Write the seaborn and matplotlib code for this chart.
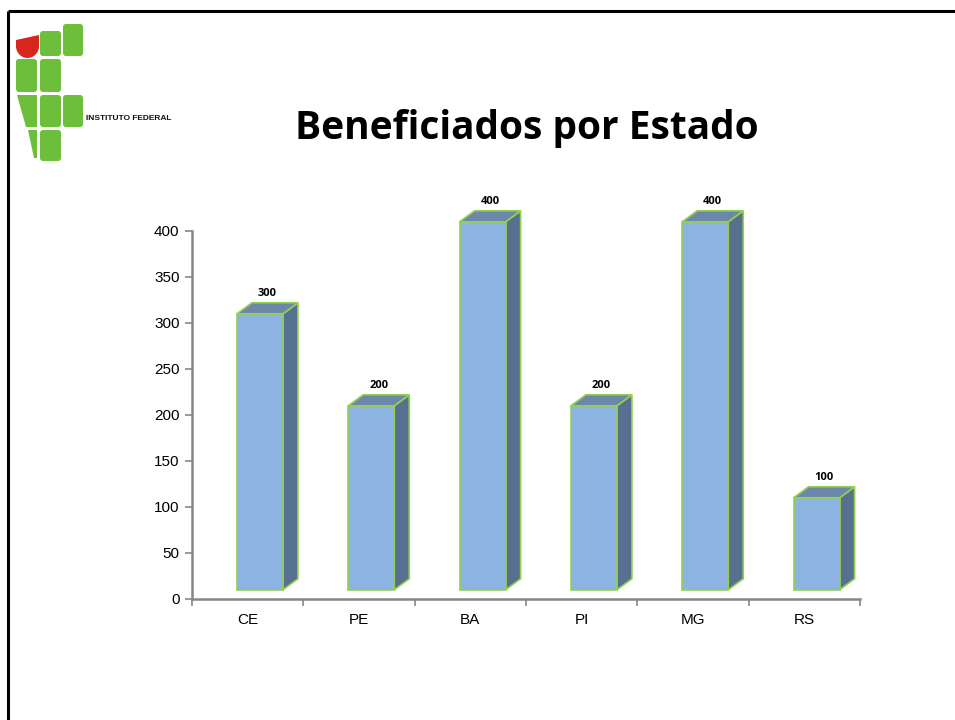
import numpy as np
import pandas as pd
import matplotlib
matplotlib.use('Agg')
from matplotlib import pyplot as plt
from matplotlib.patches import Polygon, FancyBboxPatch
import seaborn as sns

# dados
estados = ['CE', 'PE', 'BA', 'PI', 'MG', 'RS']
beneficiados = [300, 200, 400, 200, 400, 100]
y_ticks = [0, 50, 100, 150, 200, 250, 300, 350, 400]
titulo = 'Beneficiados por Estado'

# cores
frente = '#8DB3E2'
lado = '#58708F'
topo = '#6D87AB'
borda = '#92D050'
cinza = '#868686'
verde = '#6DBE3A'
vermelho = '#D9261C'

sns.set_theme(style='white')
plt.rcParams['font.family'] = ['Liberation Sans', 'DejaVu Sans']
plt.rcParams['text.color'] = 'black'

fig = plt.figure(figsize=(9.55, 7.2), dpi=100)

# fundo do slide: borda + logo (coordenadas em pixels)
bg = fig.add_axes([0, 0, 1, 1], zorder=-1)
bg.set_xlim(0, 955)
bg.set_ylim(720, 0)
bg.axis('off')
bg.plot([8, 8], [11, 720], color='black', lw=2.2, solid_capstyle='butt')
bg.plot([8, 955], [11, 11], color='black', lw=2.2, solid_capstyle='butt')


def bloco(x, y, w, h):
    bg.add_patch(FancyBboxPatch((x, y), w, h, boxstyle='round,pad=0,rounding_size=3',
                                fc=verde, ec='none'))


bloco(40, 31, 21, 25)
bloco(63, 24, 20, 32)
bloco(16, 59, 21, 33)
bloco(40, 59, 21, 33)
bloco(40, 95, 21, 32)
bloco(63, 95, 20, 32)
bloco(40, 130, 21, 31)
bg.add_patch(Polygon([(17, 95), (37, 95), (37, 127), (26, 127)], closed=True, fc=verde, ec='none'))
bg.add_patch(Polygon([(28, 130), (37, 130), (37, 158), (34, 158)], closed=True, fc=verde, ec='none'))
t = np.linspace(0, np.pi, 30)
red_pts = [(16, 40), (39, 35)] + [(27.5 + 11.5 * np.cos(a), 46 + 12 * np.sin(a)) for a in t]
bg.add_patch(Polygon(red_pts, closed=True, fc=vermelho, ec='none'))
bg.text(86, 119, 'INSTITUTO FEDERAL', fontsize=6, fontweight='bold', va='center', ha='left',
        family=['Liberation Sans Narrow', 'Liberation Sans'], color='#111111')

fig.text(527 / 955, 1 - 139 / 720, titulo, ha='center', va='baseline', fontsize=28,
         fontweight='bold', family=['Open Sans', 'DejaVu Sans'], color='black')

# grafico
ax = fig.add_axes([192 / 955, 1 - 599 / 720, (860 - 192) / 955, (599 - 231) / 720])
df = pd.DataFrame({'estado': estados, 'valor': beneficiados})
sns.barplot(data=df, x='estado', y='valor', ax=ax, width=0.413, color=frente, saturation=1,
            edgecolor=borda, linewidth=1.2, bottom=10)

dx = 0.135   # profundidade (unidades de categoria)
dy = 12      # profundidade (unidades de valor)
for p, v in zip(ax.patches, beneficiados):
    p.set_x(p.get_x() + 0.11)
    p.set_clip_on(False)
    p.set_zorder(3)
    x0, w = p.get_x(), p.get_width()
    y0, y1 = p.get_y(), p.get_y() + p.get_height()
    ax.add_patch(Polygon([(x0 + w, y0), (x0 + w + dx, y0 + dy), (x0 + w + dx, y1 + dy), (x0 + w, y1)],
                         closed=True, fc=lado, ec=borda, lw=1.2, clip_on=False, zorder=2))
    ax.add_patch(Polygon([(x0, y1), (x0 + dx, y1 + dy), (x0 + w + dx, y1 + dy), (x0 + w, y1)],
                         closed=True, fc=topo, ec=borda, lw=1.2, clip_on=False, zorder=2))
    ax.text(x0 + w / 2 + dx / 2, y1 + dy + 4, str(v), ha='center', va='bottom', fontsize=8,
            fontweight='bold', family=['Open Sans', 'DejaVu Sans'], color='black', clip_on=False)

ax.set_xlim(-0.5, 5.5)
ax.set_ylim(0, 400)
ax.set_yticks(y_ticks)
ax.set_xticks(np.arange(-0.5, 6, 1), minor=True)
ax.set_xlabel('')
ax.set_ylabel('')
ax.tick_params(axis='y', which='major', direction='out', length=5, color=cinza, width=1.2,
               labelsize=11, labelcolor='black', pad=4, left=True)
ax.tick_params(axis='x', which='major', length=0, labelsize=11, labelcolor='black', pad=10)
ax.tick_params(axis='x', which='minor', direction='out', length=5, color=cinza, width=1.2, bottom=True)
for s in ['top', 'right']:
    ax.spines[s].set_visible(False)
for s in ['left', 'bottom']:
    ax.spines[s].set_color(cinza)
    ax.spines[s].set_linewidth(1.8)
ax.patch.set_alpha(0)

fig.savefig('out.png', dpi=100)
